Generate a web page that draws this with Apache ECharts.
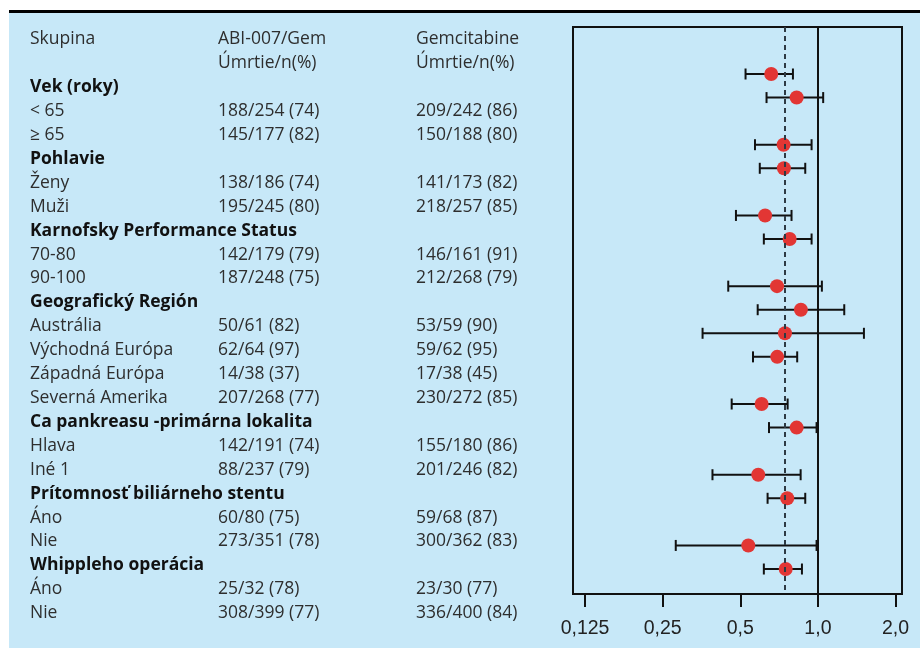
<!DOCTYPE html>
<html>
<head>
<meta charset="utf-8">
<script src="https://cdn.jsdelivr.net/npm/echarts@6/dist/echarts.min.js"></script>
<style>
  html, body { margin: 0; padding: 0; background: #fff; }
  #chart { width: 920px; height: 648px; }
</style>
</head>
<body>
<div id="chart"></div>
<script>
// Forest plot — podskupiny, HR (log2 os), ABI-007/Gem vs Gemcitabine

const headerCols = ['Skupina', 'ABI-007/Gem', 'Gemcitabine'];
const headerSub = ['', 'Úmrtie/n(%)', 'Úmrtie/n(%)'];

const rowLabels = ['Vek (roky)', '< 65', '≥ 65', 'Pohlavie', 'Ženy', 'Muži',
  'Karnofsky Performance Status', '70-80', '90-100', 'Geografický Región',
  'Austrália', 'Východná Európa', 'Západná Európa', 'Severná Amerika',
  'Ca pankreasu -primárna lokalita', 'Hlava', 'Iné 1',
  'Prítomnosť biliárneho stentu', 'Áno', 'Nie', 'Whippleho operácia', 'Áno', 'Nie'];
const rowIsGroup = [1, 0, 0, 1, 0, 0, 1, 0, 0, 1, 0, 0, 0, 0, 1, 0, 0, 1, 0, 0, 1, 0, 0];

const abiCounts = ['', '188/254 (74)', '145/177 (82)', '', '138/186 (74)', '195/245 (80)',
  '', '142/179 (79)', '187/248 (75)', '', '50/61 (82)', '62/64 (97)', '14/38 (37)',
  '207/268 (77)', '', '142/191 (74)', '88/237 (79)', '', '60/80 (75)', '273/351 (78)',
  '', '25/32 (78)', '308/399 (77)'];
const gemCounts = ['', '209/242 (86)', '150/188 (80)', '', '141/173 (82)', '218/257 (85)',
  '', '146/161 (91)', '212/268 (79)', '', '53/59 (90)', '59/62 (95)', '17/38 (45)',
  '230/272 (85)', '', '155/180 (86)', '201/246 (82)', '', '59/68 (87)', '300/362 (83)',
  '', '23/30 (77)', '336/400 (84)'];

const hr = [null, 0.659, 0.827, null, 0.736, 0.738, null, 0.624, 0.777, null, 0.694, 0.859,
  0.745, 0.695, null, 0.605, 0.827, null, 0.587, 0.76, null, 0.537, 0.75];
const ciLow = [null, 0.524, 0.632, null, 0.57, 0.595, null, 0.481, 0.617, null, 0.449, 0.584,
  0.357, 0.56, null, 0.463, 0.646, null, 0.39, 0.638, null, 0.281, 0.617];
const ciHigh = [null, 0.80, 1.048, null, 0.945, 0.893, null, 0.79, 0.945, null, 1.036, 1.265,
  1.508, 0.831, null, 0.763, 0.988, null, 0.857, 0.893, null, 0.988, 0.867];

const overallHR = 0.74;
const tickValues = [0.125, 0.25, 0.5, 1, 2];
const tickLabels = ['0,125', '0,25', '0,5', '1,0', '2,0'];

const log2 = v => Math.log2(v);
const FONT = '"Open Sans", "Noto Sans", sans-serif';
const TXT = '#2e2e2e';

// tabuľka vľavo: riadok r má základnú čiaru ~ 45.4 + 23.9*r
const lineY = r => 39.4 + 23.91 * r;
const colX = [30, 218, 416];

const graphics = [
  { type: 'rect', shape: { x: 9, y: 12, width: 911, height: 636 }, style: { fill: '#c7e8f8' }, z: -10, silent: true },
  { type: 'rect', shape: { x: 9, y: 10, width: 911, height: 3 }, style: { fill: '#000' }, z: -9, silent: true },
];
function addText(text, x, r, bold) {
  if (!text) return;
  graphics.push({
    type: 'text', silent: true, z: 5,
    style: {
      text, x, y: lineY(r), fill: bold ? '#111' : TXT,
      fontSize: 17.5, fontFamily: FONT, fontWeight: bold ? 'bold' : 'normal',
      verticalAlign: 'middle', align: 'left',
    },
  });
}
headerCols.forEach((t, i) => addText(t, colX[i], 0, false));
headerSub.forEach((t, i) => addText(t, colX[i], 1, false));
rowLabels.forEach((t, i) => {
  const r = i + 2;
  addText(t, colX[0], r, !!rowIsGroup[i]);
  addText(abiCounts[i], colX[1], r, false);
  addText(gemCounts[i], colX[2], r, false);
});

const pointData = [];
const barData = [];
hr.forEach((v, i) => {
  if (v == null) return;
  const r = i + 2;
  pointData.push([log2(v), r]);
  barData.push([log2(ciLow[i]), log2(ciHigh[i]), r]);
});

const chart = echarts.init(document.getElementById('chart'), null, { renderer: 'canvas' });
chart.setOption({
  backgroundColor: 'transparent',
  animation: false,
  grid: {
    left: 573, right: 18, top: 27, bottom: 54,
    show: true, borderColor: '#111', borderWidth: 2, backgroundColor: 'transparent',
  },
  xAxis: {
    type: 'value',
    min: -3.155, max: 1.083,
    axisLine: { show: false },
    splitLine: { show: false },
    axisTick: {
      show: true, length: 13, customValues: tickValues.map(log2),
      lineStyle: { color: '#111', width: 2 },
    },
    axisLabel: {
      show: true, customValues: tickValues.map(log2), margin: 25,
      color: '#222', fontSize: 19.5, fontFamily: '"Liberation Sans", Arial, sans-serif',
      formatter: v => {
        const i = tickValues.findIndex(t => Math.abs(log2(t) - v) < 1e-6);
        return i >= 0 ? tickLabels[i] : '';
      },
    },
  },
  yAxis: {
    type: 'value', inverse: true, min: 1.006, max: 25.06, show: false,
  },
  series: [
    {
      type: 'custom',
      z: 3,
      data: barData,
      renderItem: (params, api) => {
        const a = api.coord([api.value(0), api.value(2)]);
        const b = api.coord([api.value(1), api.value(2)]);
        const h = 5.5;
        const st = { stroke: '#111', lineWidth: 2 };
        return {
          type: 'group',
          children: [
            { type: 'line', shape: { x1: a[0], y1: a[1], x2: b[0], y2: b[1] }, style: st },
            { type: 'line', shape: { x1: a[0], y1: a[1] - h, x2: a[0], y2: a[1] + h }, style: st },
            { type: 'line', shape: { x1: b[0], y1: b[1] - h, x2: b[0], y2: b[1] + h }, style: st },
          ],
        };
      },
      markLine: {
        silent: true, symbol: 'none', animation: false,
        label: { show: false },
        data: [
          { xAxis: 0, lineStyle: { color: '#111', width: 2, type: 'solid' } },
          { xAxis: log2(overallHR), lineStyle: { color: '#2d3a44', width: 2, type: [5, 4] } },
        ],
      },
    },
    {
      type: 'scatter',
      z: 4,
      data: pointData,
      symbol: 'circle',
      symbolSize: 14,
      itemStyle: { color: '#e23634', opacity: 1 },
    },
  ],
  graphic: graphics,
});
</script>
</body>
</html>
